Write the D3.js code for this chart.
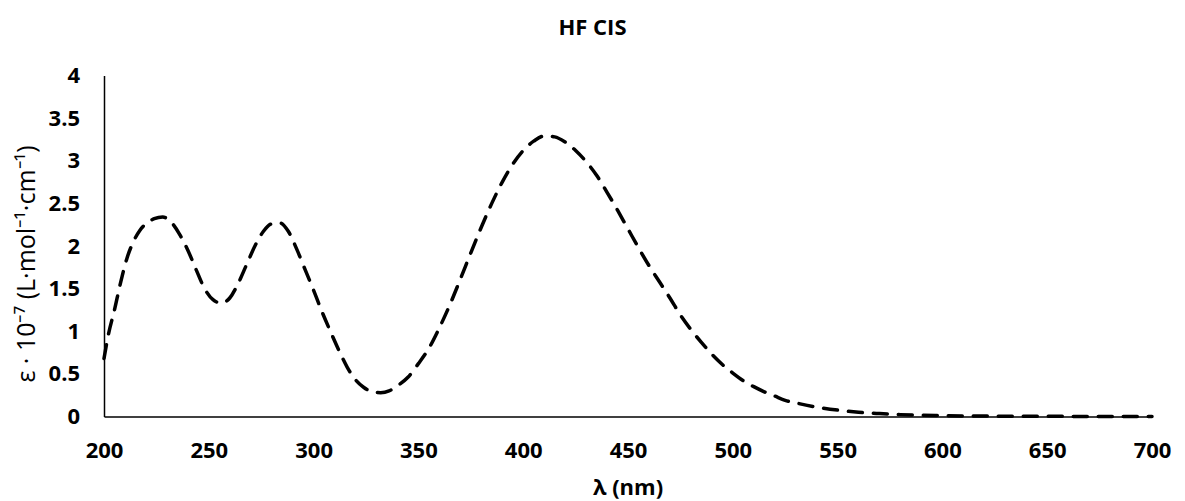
<!DOCTYPE html>
<html>
<head>
<meta charset="utf-8">
<script src="https://cdn.jsdelivr.net/npm/d3@7"></script>
<style>
  body { margin: 0; background: #fff; }
  text { font-family: 'Open Sans', sans-serif; fill: #000; }
</style>
</head>
<body>
<div id="chart"></div>
<script>
// wavelength (nm) and absorptivity
const wavelengths = [200, 202, 205, 208, 211, 214, 217, 220, 224, 228, 232, 236, 240, 244, 248, 252, 256, 260, 264, 268,
  272, 276, 280, 284, 288, 292, 296, 300, 304, 308, 312, 316, 320, 324, 328, 332, 336, 340, 345, 350,
  355, 360, 365, 370, 375, 380, 385, 390, 395, 400, 405, 410, 415, 420, 425, 430, 435, 440, 445, 450,
  455, 460, 465, 470, 475, 480, 485, 490, 495, 500, 505, 510, 515, 520, 525, 530, 540, 550, 560, 570,
  580, 590, 600, 620, 650, 700]
const epsilon = [0.68, 0.95, 1.25, 1.58, 1.86, 2.05, 2.18, 2.26, 2.32, 2.34, 2.28, 2.14, 1.95, 1.72, 1.50, 1.37, 1.33, 1.39, 1.56, 1.78,
  2.00, 2.17, 2.26, 2.27, 2.17, 1.96, 1.72, 1.48, 1.23, 1.00, 0.78, 0.58, 0.43, 0.34, 0.29, 0.28, 0.30, 0.36, 0.46, 0.62,
  0.80, 1.04, 1.31, 1.61, 1.92, 2.22, 2.50, 2.75, 2.96, 3.12, 3.23, 3.29, 3.28, 3.22, 3.12, 2.99, 2.83, 2.63, 2.42, 2.20,
  1.98, 1.77, 1.58, 1.39, 1.19, 1.02, 0.87, 0.73, 0.61, 0.51, 0.42, 0.35, 0.29, 0.24, 0.19, 0.16, 0.11, 0.075, 0.05, 0.034,
  0.022, 0.015, 0.01, 0.005, 0.002, 0.0005]
const xTicks = [200, 250, 300, 350, 400, 450, 500, 550, 600, 650, 700]
const yTicks = [0, 0.5, 1, 1.5, 2, 2.5, 3, 3.5, 4]

const width = 1185, height = 501
const margin = { top: 75.5, right: 33, bottom: 84.5, left: 104 }

const svg = d3.select('#chart')
  .append('svg')
  .attr('width', width)
  .attr('height', height)

const x = d3.scaleLinear().domain([200, 700]).range([margin.left, width - margin.right])
const y = d3.scaleLinear().domain([0, 4]).range([height - margin.bottom, margin.top])

svg.append('text')
  .attr('x', width / 2)
  .attr('y', 35)
  .attr('text-anchor', 'middle')
  .style('font-size', '22px')
  .style('font-weight', 'bold')
  .text('HF CIS')

const xAxis = svg.append('g')
  .attr('transform', `translate(0, ${y(0)})`)
  .call(d3.axisBottom(x).tickValues(xTicks).tickSize(0).tickPadding(26))
xAxis.select('.domain').attr('stroke', '#000').attr('stroke-width', 1.5)
xAxis.selectAll('text').style('font-size', '22px').style('font-weight', 'bold')

const yAxis = svg.append('g')
  .attr('transform', `translate(${x(200)}, 0)`)
  .call(d3.axisLeft(y).tickValues(yTicks).tickSize(0).tickPadding(24).tickFormat(d3.format('')))
yAxis.select('.domain').attr('stroke', '#000').attr('stroke-width', 1.5)
yAxis.selectAll('text').style('font-size', '22px').style('font-weight', 'bold')

svg.append('text')
  .attr('x', (x(200) + x(700)) / 2)
  .attr('y', 495)
  .attr('text-anchor', 'middle')
  .style('font-size', '22px')
  .style('font-weight', 'bold')
  .text('λ (nm)')

svg.append('text')
  .attr('transform', `translate(35, 264) rotate(-90)`)
  .attr('text-anchor', 'middle')
  .style('font-size', '25px')
  .text('ε · 10⁻⁷ (L·mol⁻¹·cm⁻¹)')

const points = wavelengths.map((w, i) => [w, epsilon[i]])
const line = d3.line()
  .x(d => x(d[0]))
  .y(d => y(d[1]))
  .curve(d3.curveMonotoneX)

svg.append('path')
  .datum(points)
  .attr('fill', 'none')
  .attr('stroke', '#000')
  .attr('stroke-width', 3.5)
  .attr('stroke-dasharray', '14,11')
  .attr('stroke-linecap', 'round')
  .attr('d', line)
</script>
</body>
</html>
